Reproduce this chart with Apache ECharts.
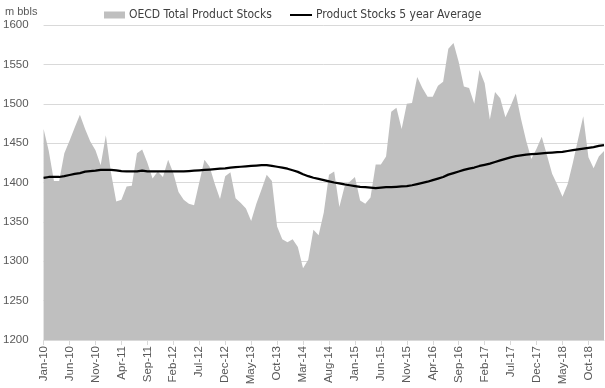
<!DOCTYPE html>
<html>
<head>
<meta charset="utf-8">
<script src="https://cdn.jsdelivr.net/npm/echarts@6/dist/echarts.min.js"></script>
<style>html,body{margin:0;padding:0;background:#fff;}#c{width:605px;height:388px;}</style>
</head>
<body>
<div id="c"></div>
<script>
const monthNames = ['Jan','Feb','Mar','Apr','May','Jun','Jul','Aug','Sep','Oct','Nov','Dec'];
const startYear = 2010;
const monthCount = 109;
const categories = [];
for (let i = 0; i < monthCount; i++) {
  const y = startYear + Math.floor(i / 12);
  categories.push(monthNames[i % 12] + '-' + String(y % 100).padStart(2, '0'));
}

const stocks = [
  1468,1440,1402,1402,1437,1453,1470,1486,1468,1452,1441,1422,
  1460,1412,1376,1378,1395,1396,1437,1442,1425,1405,1414,1407,
  1429,1412,1388,1378,1373,1371,1400,1429,1420,1398,1379,1408,
  1413,1380,1374,1367,1351,1373,1391,1410,1402,1344,1328,1324,
  1328,1318,1291,1302,1340,1333,1362,1410,1414,1369,1395,1401,
  1407,1377,1373,1381,1423,1423,1433,1490,1495,1468,1500,1501,
  1534,1520,1509,1509,1523,1528,1570,1577,1553,1522,1520,1500,
  1543,1526,1480,1515,1507,1483,1497,1513,1481,1453,1430,1443,
  1458,1435,1411,1397,1382,1398,1425,1455,1484,1432,1418,1433,
  1440
];

const avg5y = [
  1406,1407,1407,1407,1408,1409.5,1411,1412,1413.7,1414.5,1415,1416,
  1416,1416,1415.5,1414.5,1414,1414,1414,1415,1414,1414,1414,1414,
  1414,1414,1414,1414,1414.5,1415,1415.5,1416,1416.5,1417,1417.5,1418,
  1419,1419.5,1420,1420.5,1421,1421.5,1422,1422,1421,1420,1419,1417.5,
  1415.5,1413.5,1410.5,1408,1406,1404.5,1403,1401.5,1400,1399,1397.5,1396.5,
  1395.5,1394.5,1394,1393.5,1393,1393.5,1394,1394,1394.5,1395,1395.5,1396.5,
  1398,1399.5,1401,1403,1405,1407,1410,1412,1414,1416,1417.5,1419,
  1421,1422.5,1424,1426,1428,1430,1432,1433.5,1434.5,1435.5,1436,1436.5,
  1437,1437.5,1438,1438.5,1439,1440,1441,1442,1443,1444,1445,1446.5,
  1447.5
];

const yMin = 1200, yMax = 1600, yStep = 50;
const font = "'Liberation Sans Narrow', 'DejaVu Sans Condensed', 'Liberation Sans', sans-serif";
const labelFont = "'Liberation Sans', sans-serif";

const chart = echarts.init(document.getElementById('c'), null, {renderer: 'canvas'});
chart.setOption({
  animation: false,
  backgroundColor: '#ffffff',
  title: {
    text: 'm bbls', left: 0, top: 1,
    textStyle: {fontSize: 11, fontWeight: 'normal', color: '#595959', fontFamily: labelFont}
  },
  legend: [
    {
      left: 99, top: 4, itemWidth: 21, itemHeight: 7, itemGap: 4,
      data: [{name: 'OECD Total Product Stocks', icon: 'rect', itemStyle: {color: '#bfbfbf'}}],
      textStyle: {fontSize: 12, color: '#404040', fontFamily: font, padding: [0,0,0,-1]}
    },
    {
      left: 285, top: 4, itemWidth: 22, itemHeight: 2,
      data: [{name: 'Product Stocks 5 year Average', icon: 'rect', itemStyle: {color: '#000000'}}],
      textStyle: {fontSize: 12, color: '#404040', fontFamily: font, padding: [0,0,0,-1]}
    }
  ],
  grid: {left: 43, right: 1, top: 25, bottom: 48, containLabel: false},
  xAxis: {
    type: 'category',
    data: categories,
    boundaryGap: false,
    axisLine: {show: true, lineStyle: {color: '#d9d9d9', width: 1}},
    axisTick: {show: true, interval: 4, length: 5, lineStyle: {color: '#d9d9d9'}},
    axisLabel: {interval: 4, rotate: 90, fontSize: 11.5, color: '#595959', fontFamily: labelFont, margin: 6},
    splitLine: {show: false}
  },
  yAxis: {
    type: 'value',
    min: yMin, max: yMax, interval: yStep,
    axisLine: {show: false},
    axisTick: {show: false},
    axisLabel: {fontSize: 11.5, color: '#595959', fontFamily: labelFont, margin: 15, formatter: function (v) { return String(v); }},
    splitLine: {show: true, lineStyle: {color: '#d9d9d9', width: 1}}
  },
  series: [
    {
      name: 'OECD Total Product Stocks',
      type: 'line',
      data: stocks,
      symbol: 'none',
      lineStyle: {width: 0, color: '#bfbfbf'},
      itemStyle: {color: '#bfbfbf'},
      areaStyle: {color: '#bfbfbf', opacity: 1, origin: 'start'},
      z: 2
    },
    {
      name: 'Product Stocks 5 year Average',
      type: 'line',
      data: avg5y,
      symbol: 'none',
      smooth: false,
      lineStyle: {width: 2.25, color: '#000000'},
      itemStyle: {color: '#000000'},
      z: 3
    }
  ]
});
</script>
</body>
</html>
